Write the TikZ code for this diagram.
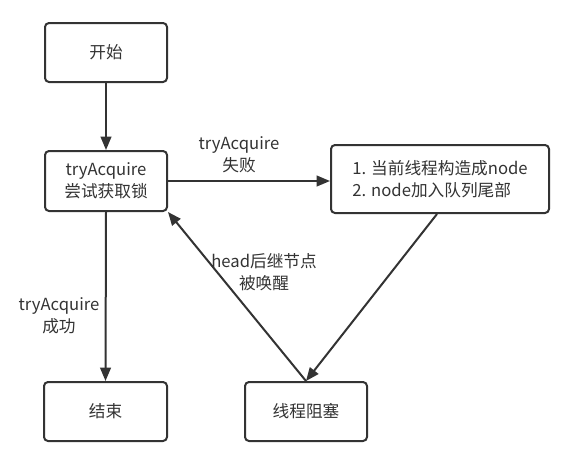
\documentclass[tikz,border=0pt]{standalone}
\usepackage{fontspec}
\setmainfont{Noto Sans CJK SC}
\usetikzlibrary{arrows.meta,calc}
\definecolor{ink}{HTML}{333333}
\begin{document}
\begin{tikzpicture}[x=0.75pt,y=-0.75pt,
  box/.style={draw=ink,line width=1.5pt,rounded corners=3pt,fill=white,align=center,inner sep=0pt,text=ink,font=\fontsize{12.5}{16.5}\selectfont},
  lbl/.style={align=center,text=ink,inner sep=1pt,font=\fontsize{12.5}{16.5}\selectfont},
  conn/.style={draw=ink,line width=1.5pt,-{Triangle[length=10pt,width=8pt]}}]
\useasboundingbox (0,0) rectangle (574,458);
\node[box,minimum width=122*0.75pt,minimum height=59*0.75pt] (start) at (106,52.5) {开始};
\node[box,minimum width=122*0.75pt,minimum height=60*0.75pt] (try) at (106,181) {tryAcquire\\尝试获取锁};
\node[box,minimum width=218*0.75pt,minimum height=68*0.75pt,align=left] (enq) at (440,179) {1. 当前线程构造成node\\2. node加入队列尾部};
\node[box,minimum width=123*0.75pt,minimum height=59*0.75pt] (end) at (105.5,411.5) {结束};
\node[box,minimum width=122*0.75pt,minimum height=59*0.75pt] (block) at (306,411.5) {线程阻塞};
\draw[conn] (start.south) -- (try.north);
\draw[conn] (try.east) -- (try.east -| enq.west);
\draw[conn] (try.south) -- (end.north);
\draw[conn] ($(enq.south)+(-3,0)$) -- (block.north);
\draw[conn] (block.north) -- (try.south east);
\node[lbl] (l1) at (239,155) {tryAcquire\\失败};
\node[lbl] (l2) at (59,316) {tryAcquire\\成功};
\node[lbl] (l3) at (264,272) {head后继节点\\被唤醒};
\end{tikzpicture}
\end{document}
